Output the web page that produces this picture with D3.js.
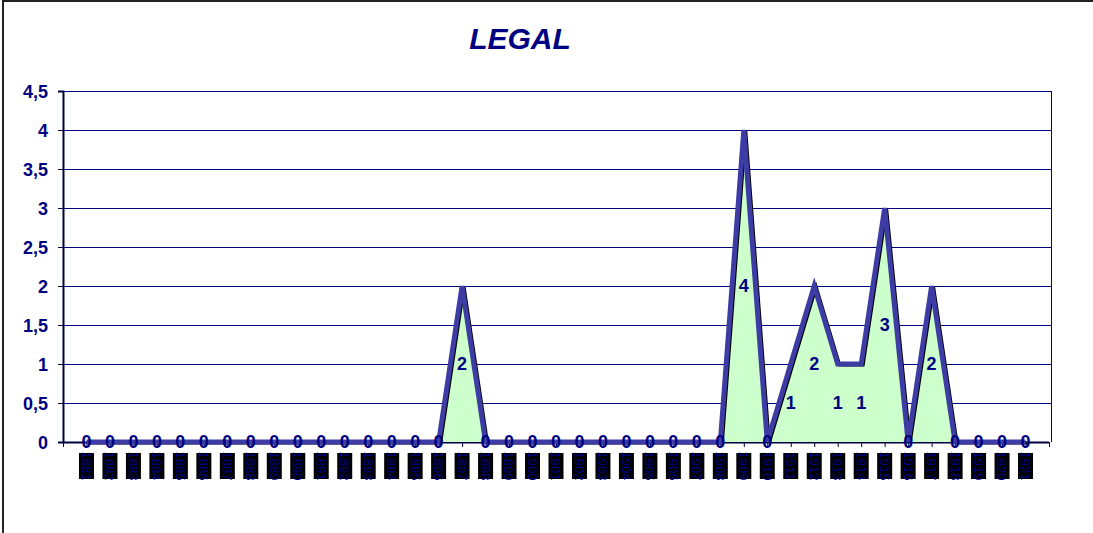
<!DOCTYPE html>
<html><head><meta charset="utf-8">
<script src="https://cdn.jsdelivr.net/npm/d3@7"></script>
<style>body{margin:0;background:#fff}svg{display:block}text{font-family:Arial,"Liberation Sans",sans-serif}</style>
</head><body>
<svg id="c" width="1093" height="533"></svg>
<script>
const years = d3.range(1881, 1922).map(String);
const values = [0,0,0,0,0,0,0,0,0,0,0,0,0,0,0,0,2,0,0,0,0,0,0,0,0,0,0,0,4,0,1,2,1,1,3,0,2,0,0,0,0];
const yTicks = [0,0.5,1,1.5,2,2.5,3,3.5,4,4.5];
const title = "LEGAL";

(function(){
const svg = d3.select("#c");
const pL = 63, pR = 1049, pT = 91, pB = 442;
const navy = "#000080";

// outer frame
svg.append("path").attr("d","M3,533 V1 H1093").attr("fill","none").attr("stroke","#222").attr("stroke-width",2);

const x = d3.scalePoint().domain(["", ...years, " "]).range([pL, pR]);
const y = d3.scaleLinear().domain([0,4.5]).range([pB, pT]);

// gridlines
svg.append("g").selectAll("line").data(yTicks.filter(d=>d>0)).join("line")
  .attr("x1",pL).attr("x2",1051).attr("y1",d=>Math.round(y(d))+0.5).attr("y2",d=>Math.round(y(d))+0.5)
  .attr("stroke",navy).attr("stroke-width",1);
svg.append("line").attr("x1",1051.5).attr("x2",1051.5).attr("y1",pT).attr("y2",pB).attr("stroke",navy);

// y axis
const yAxis = d3.axisLeft(y).tickValues(yTicks).tickSize(5).tickFormat(d=>String(d).replace(".",","));
const gy = svg.append("g").attr("transform",`translate(${pL},0)`).call(yAxis);
gy.select(".domain").attr("stroke","#000040").attr("stroke-width",2);
gy.selectAll(".tick line").attr("stroke","#000040");
gy.selectAll(".tick text").attr("fill",navy).attr("font-size",18).attr("font-weight","bold").attr("x",-15).attr("dy","0.36em");

// x axis ticks
const xAxis = d3.axisBottom(x).tickValues(["", ...years, " "]).tickSize(5).tickFormat("");
const gx = svg.append("g").attr("transform",`translate(0,${pB})`).call(xAxis);
gx.select(".domain").attr("stroke","#000040").attr("stroke-width",2).attr("d",`M${pL},0.5H${pR}`);
gx.selectAll(".tick line").attr("stroke","#000040");

// area
const area = d3.area().x((d,i)=>x(years[i])).y0(y(0)).y1(d=>y(d));
const line = d3.line().x((d,i)=>x(years[i])).y(d=>y(d));
svg.append("path").datum(values).attr("d",area).attr("fill","#ccffcc");
svg.append("path").datum(values).attr("d",line).attr("fill","none").attr("stroke","#000").attr("stroke-width",3)
  .attr("transform","translate(2,1)");
svg.append("path").datum(values).attr("d",line).attr("fill","none").attr("stroke","#3c3ca4").attr("stroke-width",5);

// data labels
svg.append("g").selectAll("text").data(values).join("text")
  .attr("x",(d,i)=>x(years[i])).attr("y",d=>y(d/2)).attr("dy","0.36em")
  .attr("text-anchor","middle").attr("font-size",18).attr("font-weight","bold").attr("fill",navy)
  .text(d=>d);

// x labels: rotated text in black boxes
const lg = svg.append("g");
years.forEach((yr)=>{
  const g = lg.append("g").attr("transform",`translate(${x(yr)},466)`);
  g.append("rect").attr("x",-7.5).attr("y",-13).attr("width",15).attr("height",26).attr("fill","#000");
  g.append("text").attr("transform","rotate(90)").attr("text-anchor","middle").attr("dy","0.35em")
    .attr("font-size",13).attr("fill",navy).text(yr);
});

// title
svg.append("text").attr("x",520).attr("y",49).attr("text-anchor","middle").attr("font-size",30)
  .attr("font-weight","bold").attr("font-style","italic").attr("fill",navy).text(title);
})();
</script>
</body></html>
